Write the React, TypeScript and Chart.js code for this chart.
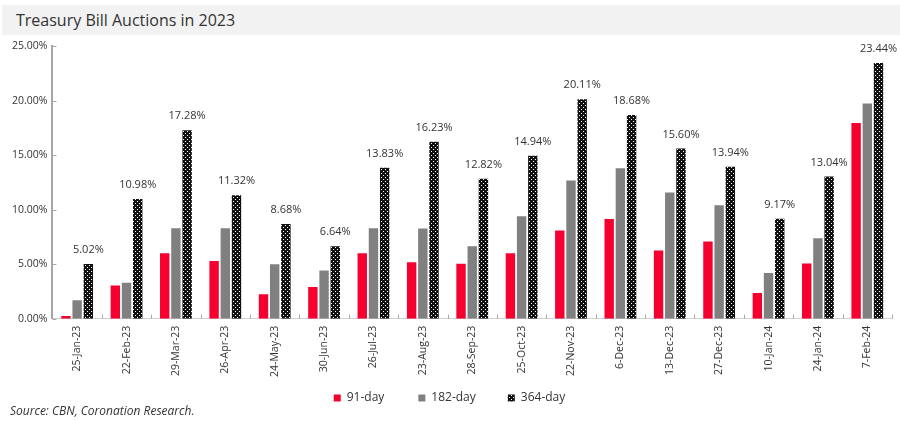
import React, { useEffect, useRef } from 'react';
import { Chart, registerables } from 'chart.js';

Chart.register(...registerables);

// auction dates
const categories = [
  '25-Jan-23', '22-Feb-23', '29-Mar-23', '26-Apr-23', '24-May-23', '30-Jun-23',
  '26-Jul-23', '23-Aug-23', '28-Sep-23', '25-Oct-23', '22-Nov-23', '6-Dec-23',
  '13-Dec-23', '27-Dec-23', '10-Jan-24', '24-Jan-24', '7-Feb-24'
];

// stop rates, %
const day91 = [0.24, 3.05, 6.0, 5.28, 2.25, 2.9, 6.0, 5.17, 5.03, 6.0, 8.09, 9.13, 6.25, 7.08, 2.36, 5.05, 17.95];
const day182 = [1.68, 3.3, 8.3, 8.3, 5.0, 4.42, 8.3, 8.27, 6.65, 9.4, 12.68, 13.8, 11.58, 10.39, 4.2, 7.38, 19.73];
const day364 = [5.02, 10.98, 17.28, 11.32, 8.68, 6.64, 13.83, 16.23, 12.82, 14.94, 20.11, 18.68, 15.6, 13.94, 9.17, 13.04, 23.44];

const yTicks = [0, 5, 10, 15, 20, 25];

const FONT = '"Open Sans", "Noto Sans", sans-serif';

// black fill with white dots, like the Excel pattern fill
const makeDots = (): CanvasPattern | string => {
  const c = document.createElement('canvas');
  c.width = 4;
  c.height = 4;
  const g = c.getContext('2d');
  if (!g) return '#111';
  g.fillStyle = '#111';
  g.fillRect(0, 0, 4, 4);
  g.fillStyle = '#fff';
  g.fillRect(1, 1, 1, 1);
  g.fillRect(3, 3, 1, 1);
  return g.createPattern(c, 'repeat') || '#111';
};

// small tick marks drawn inside the plot, Excel style
const innerTicks = {
  id: 'innerTicks',
  afterDraw(chart: any) {
    const { ctx, chartArea, scales } = chart;
    ctx.save();
    ctx.strokeStyle = '#a6a6a6';
    ctx.lineWidth = 1;
    ctx.beginPath();
    scales.y.ticks.forEach((t: any) => {
      const py = Math.round(scales.y.getPixelForValue(t.value)) + 0.5;
      ctx.moveTo(chartArea.left, py);
      ctx.lineTo(chartArea.left + 4, py);
    });
    for (let i = 0; i <= categories.length; i++) {
      const px = Math.round(scales.x.getPixelForValue(i - 0.5)) + 0.5;
      ctx.moveTo(px, chartArea.bottom);
      ctx.lineTo(px, chartArea.bottom - 4);
    }
    ctx.stroke();
    ctx.restore();
  }
};

// value labels over the 364-day bars
const topLabels = {
  id: 'topLabels',
  afterDatasetsDraw(chart: any) {
    const { ctx } = chart;
    const meta = chart.getDatasetMeta(2);
    ctx.save();
    ctx.font = `11px ${FONT}`;
    ctx.fillStyle = '#333';
    ctx.textAlign = 'center';
    ctx.textBaseline = 'middle';
    meta.data.forEach((bar: any, i: number) => {
      ctx.fillText(day364[i].toFixed(2) + '%', bar.x, bar.y - 14);
    });
    ctx.restore();
  }
};

// extra gap after each legend entry
const legendGap = ['\u2002\u2002\u2002\u2002\u2009', '\u2002\u2002\u2002\u2002', ''];

const App: React.FC = () => {
  const canvasRef = useRef<HTMLCanvasElement>(null);
  const chartRef = useRef<Chart | null>(null);

  useEffect(() => {
    const ctx = canvasRef.current?.getContext('2d');
    if (!ctx) return;
    if (chartRef.current) chartRef.current.destroy();

    const dots = makeDots();
    const baseLabels = Chart.defaults.plugins.legend.labels.generateLabels;

    chartRef.current = new Chart(ctx, {
      type: 'bar',
      data: {
        labels: categories,
        datasets: [
          { label: '91-day', data: day91, backgroundColor: '#f5002f' },
          { label: '182-day', data: day182, backgroundColor: '#808080' },
          { label: '364-day', data: day364, backgroundColor: dots as any }
        ]
      },
      options: {
        responsive: false,
        animation: false,
        layout: { padding: { top: 46, left: 7, right: 8, bottom: 7 } },
        datasets: {
          bar: { categoryPercentage: 0.68, barPercentage: 0.84 }
        },
        plugins: {
          legend: {
            position: 'bottom',
            labels: {
              boxWidth: 7,
              boxHeight: 7,
              padding: 8,
              color: '#333',
              font: { family: FONT, size: 12 },
              // widen the gaps between items without growing the legend's height
              generateLabels: (chart: any) =>
                baseLabels(chart).map((item: any, i: number) => ({
                  ...item,
                  text: item.text + legendGap[i]
                }))
            }
          },
          tooltip: { enabled: false }
        },
        scales: {
          x: {
            grid: { display: false, drawTicks: false },
            border: { color: '#d0d0d0', width: 1 },
            ticks: {
              color: '#333',
              font: { family: FONT, size: 10.5 },
              maxRotation: 90,
              minRotation: 90,
              padding: 7,
              autoSkip: false
            }
          },
          y: {
            min: 0,
            max: 25,
            grid: { display: false, drawTicks: false },
            border: { color: '#a6a6a6', width: 2 },
            afterBuildTicks: (scale: any) => {
              scale.ticks = yTicks.map((v) => ({ value: v }));
            },
            ticks: {
              color: '#333',
              padding: 5,
              font: { family: FONT, size: 10.5 },
              callback: (v: any) => Number(v).toFixed(2) + '%'
            }
          }
        }
      },
      plugins: [innerTicks, topLabels]
    });

    return () => {
      if (chartRef.current) {
        chartRef.current.destroy();
        chartRef.current = null;
      }
    };
  }, []);

  return (
    <div style={{ position: 'fixed', left: 0, top: 0, width: 900, height: 421, background: '#fff', fontFamily: FONT }}>
      <div
        style={{
          position: 'absolute',
          left: 2,
          right: 0,
          top: 5,
          height: 30,
          background: '#f2f2f2',
          color: '#333',
          fontSize: 16,
          lineHeight: '30px',
          paddingLeft: 14
        }}
      >
        Treasury Bill Auctions in 2023
      </div>
      <canvas ref={canvasRef} width={900} height={421} style={{ position: 'absolute', left: 0, top: 0 }} />
      <div
        style={{
          position: 'absolute',
          left: 10,
          top: 402,
          fontSize: 12,
          fontStyle: 'italic',
          color: '#333'
        }}
      >
        Source: CBN, Coronation Research.
      </div>
    </div>
  );
};

export default App;
